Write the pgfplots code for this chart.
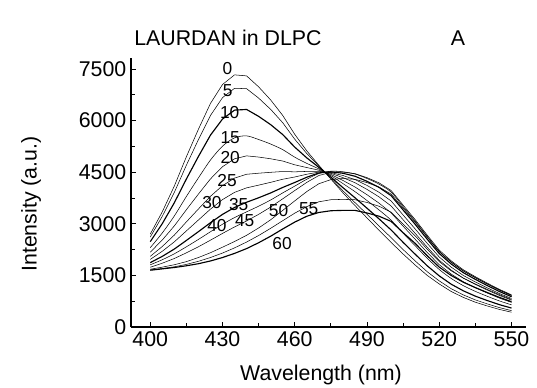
\documentclass[border=0pt]{standalone}
\usepackage{fontspec}
\setmainfont{Liberation Sans}
\usepackage{pgfplots}
\pgfplotsset{compat=1.18}
\usepackage{pgfplotstable}
\newcommand{\bigf}{\fontsize{16}{19}\selectfont}
\newcommand{\smf}{\fontsize{13}{15}\selectfont}
\pgfplotstableread{
lam c0 c5 c10 c15 c20 c25 c30 c35 c40 c45 c50 c55 c60
400 2700 2616 2480 2306 2175 2054 1965 1871 1808 1737 1680 1660 1650
405 3350 3219 3006 2735 2530 2341 2202 2054 1956 1855 1740 1700 1690
410 4100 3914 3613 3230 2940 2673 2476 2267 2128 1992 1810 1750 1730
415 4950 4704 4303 3795 3410 3056 2794 2517 2332 2156 1900 1820 1780
420 5750 5448 4958 4336 3865 3431 3111 2772 2546 2333 2020 1910 1840
425 6500 6149 5578 4854 4305 3800 3427 3032 2769 2524 2160 2020 1920
430 7050 6668 6046 5258 4660 4110 3704 3274 2987 2721 2320 2150 2020
435 7330 6940 6305 5500 4890 4329 3914 3475 3182 2909 2486 2300 2140
440 7300 6928 6324 5556 4975 4440 4045 3627 3348 3084 2666 2470 2280
445 6980 6654 6123 5450 4940 4471 4124 3757 3512 3275 2879 2660 2450
450 6600 6326 5882 5318 4890 4497 4206 3898 3693 3487 3118 2870 2640
455 6150 5938 5594 5156 4825 4520 4295 4057 3898 3727 3390 3090 2850
460 5600 5458 5228 4936 4715 4511 4361 4202 4096 3967 3667 3310 3050
465 5120 5042 4916 4756 4635 4523 4441 4354 4296 4205 3938 3500 3220
470 4700 4678 4641 4595 4560 4528 4504 4479 4462 4404 4165 3640 3330
475 4300 4322 4357 4401 4435 4466 4489 4513 4529 4498 4285 3700 3380
480 3900 3958 4051 4170 4260 4343 4404 4469 4512 4503 4316 3710 3390
485 3530 3616 3757 3935 4070 4194 4286 4383 4448 4457 4293 3700 3390
490 3170 3278 3453 3676 3845 4000 4115 4236 4317 4341 4198 3620 3315
495 2810 2936 3142 3402 3600 3782 3916 4058 4153 4190 4067 3510 3220
500 2460 2598 2821 3105 3320 3518 3664 3819 3922 3968 3864 3340 3070
505 2120 2250 2460 2727 2930 3116 3254 3400 3497 3542 3455 2990 2740
510 1800 1920 2115 2362 2550 2722 2850 2985 3075 3119 3046 2650 2430
515 1500 1606 1779 1999 2165 2318 2431 2551 2630 2670 2610 2260 2070
520 1250 1340 1485 1670 1810 1939 2034 2135 2202 2235 2186 1900 1740
525 1030 1111 1242 1409 1535 1651 1737 1828 1888 1920 1880 1630 1495
530 860 933 1051 1201 1315 1420 1497 1579 1633 1662 1630 1420 1300
535 720 787 896 1035 1140 1237 1308 1384 1434 1461 1434 1250 1145
540 610 670 767 891 985 1071 1135 1202 1247 1272 1250 1090 1000
545 510 563 649 757 840 916 972 1031 1071 1093 1075 940 860
550 430 476 550 644 715 781 829 880 914 934 918 800 735
}\spectra
\begin{document}
\begin{tikzpicture}
\path[use as bounding box] (-98.25pt,-45pt) rectangle (304.5pt,245.25pt);
\begin{axis}[
 at={(0pt,0pt)}, anchor=south west,
 scale only axis, width=296.25pt, height=201.75pt,
 xmin=392, xmax=556, ymin=0, ymax=7820,
 axis x line*=bottom, axis y line*=left,
 axis line style={line width=0.8pt, black},
 xtick={400,430,...,550}, ytick={0,1500,...,7500},
 minor x tick num=1, minor y tick num=1,
 tick align=inside,
 major tick length=4pt, minor tick length=3pt,
 tick style={line width=0.7pt, black},
 scaled y ticks=false,
 /pgf/number format/assume math mode=true,
 /pgf/number format/1000 sep={},
 ticklabel style={font=\bigf},
 xlabel={Wavelength (nm)}, ylabel={Intensity (a.u.)},
 label style={font=\bigf},
 x label style={at={(axis description cs:0.481,-0.178)},anchor=center},
 y label style={at={(axis description cs:-0.253,0.457)},anchor=center},
 clip=false,
 cycle list={{black,solid,line width=0.85pt,smooth,mark=none}},
]
\addplot table[x=lam,y=c0] {\spectra};
\addplot table[x=lam,y=c5] {\spectra};
\addplot table[x=lam,y=c10] {\spectra};
\addplot table[x=lam,y=c15] {\spectra};
\addplot table[x=lam,y=c20] {\spectra};
\addplot table[x=lam,y=c25] {\spectra};
\addplot table[x=lam,y=c30] {\spectra};
\addplot table[x=lam,y=c35] {\spectra};
\addplot table[x=lam,y=c40] {\spectra};
\addplot table[x=lam,y=c45] {\spectra};
\addplot table[x=lam,y=c50] {\spectra};
\addplot table[x=lam,y=c55] {\spectra};
\addplot table[x=lam,y=c60] {\spectra};
\node[font=\bigf] at (rel axis cs:0.2456,1.074) {LAURDAN in DLPC};
\node[font=\bigf] at (rel axis cs:0.828,1.074) {A};
\begin{scope}[every node/.style={font=\smf, inner sep=0pt}]
\node at (axis cs:432,7520) {0};
\node at (axis cs:432.1,6865) {5};
\node at (axis cs:433,6225) {10};
\node at (axis cs:433.2,5508) {15};
\node at (axis cs:433.2,4926) {20};
\node at (axis cs:431.9,4265) {25};
\node at (axis cs:425.6,3605) {30};
\node at (axis cs:436.7,3566) {35};
\node at (axis cs:427.7,2955) {40};
\node at (axis cs:439.2,3100) {45};
\node at (axis cs:453.3,3377) {50};
\node at (axis cs:465.8,3441) {55};
\node at (axis cs:454.7,2422) {60};
\end{scope}
\end{axis}
\end{tikzpicture}
\end{document}
